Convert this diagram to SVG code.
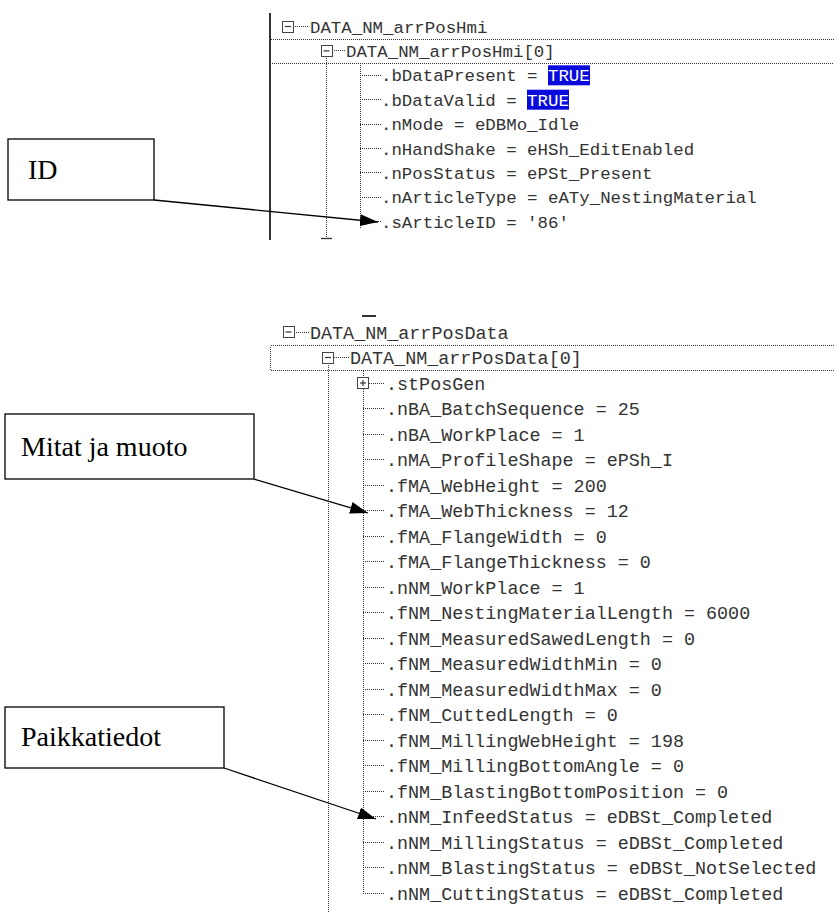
<svg xmlns="http://www.w3.org/2000/svg" width="834" height="913" viewBox="0 0 834 913">
<style>
.t1{font-family:"Liberation Mono","DejaVu Sans Mono",monospace;font-size:17.4px;fill:#333}
.t2{font-family:"Liberation Mono","DejaVu Sans Mono",monospace;font-size:18.4px;fill:#333}
.lbl{font-family:"Liberation Serif","Times New Roman",serif;font-size:28px;fill:#000}
.box{fill:#fff;stroke:#000;stroke-width:1.3}
.dot{stroke:#333;stroke-width:1;stroke-dasharray:1 1;fill:none;shape-rendering:crispEdges}
.tb{fill:#fff;stroke:#444;stroke-width:1;shape-rendering:crispEdges}
.tm{stroke:#333;stroke-width:1.2}
.hl{fill:#0a0adc}
.arr{stroke:#000;stroke-width:1.3;fill:none;marker-end:url(#ah)}
</style>
<defs>
<marker id="ah" markerUnits="userSpaceOnUse" markerWidth="18" markerHeight="12" refX="18" refY="6" orient="auto">
<path d="M0,0 L18,6 L0,12 z" fill="#000"/>
</marker>
</defs>
<rect width="834" height="913" fill="#fff"/>

<g id="tree-hmi">
<line x1="270" y1="13" x2="270" y2="240" stroke="#000" stroke-width="1.6"/>
<rect x="270.5" y="39.5" width="570" height="24" class="dot"/>
<line x1="293" y1="26.5" x2="308" y2="26.5" class="dot"/>
<line x1="332" y1="50.5" x2="345" y2="50.5" class="dot"/>
<line x1="326.5" y1="56.4" x2="326.5" y2="238" class="dot"/>
<line x1="321" y1="238.5" x2="332" y2="238.5" stroke="#333" stroke-width="1.3"/>
<line x1="360.5" y1="63" x2="360.5" y2="228" class="dot"/>
<line x1="360" y1="75.5" x2="381" y2="75.5" class="dot"/>
<line x1="360" y1="99.5" x2="381" y2="99.5" class="dot"/>
<line x1="360" y1="124.5" x2="381" y2="124.5" class="dot"/>
<line x1="360" y1="148.5" x2="381" y2="148.5" class="dot"/>
<line x1="360" y1="172.5" x2="381" y2="172.5" class="dot"/>
<line x1="360" y1="197.5" x2="381" y2="197.5" class="dot"/>
<line x1="360" y1="221.5" x2="381" y2="221.5" class="dot"/>
<rect x="282.5" y="21" width="11" height="11" class="tb"/>
<line x1="285" y1="26.5" x2="291" y2="26.5" class="tm"/>
<rect x="321" y="45.4" width="11" height="11" class="tb"/>
<line x1="323.5" y1="50.9" x2="329.5" y2="50.9" class="tm"/>
<rect x="548" y="65.3" width="42" height="20" class="hl"/>
<rect x="527" y="89.7" width="42" height="20" class="hl"/>
<text class="t1" x="310" y="32.5">DATA_NM_arrPosHmi</text>
<text class="t1" x="346" y="56.9">DATA_NM_arrPosHmi[0]</text>
<text class="t1" x="381" y="81.3">.bDataPresent = <tspan fill="#fff">TRUE</tspan></text>
<text class="t1" x="381" y="105.7">.bDataValid = <tspan fill="#fff">TRUE</tspan></text>
<text class="t1" x="381" y="130.1">.nMode = eDBMo_Idle</text>
<text class="t1" x="381" y="154.5">.nHandShake = eHSh_EditEnabled</text>
<text class="t1" x="381" y="178.9">.nPosStatus = ePSt_Present</text>
<text class="t1" x="381" y="203.3">.nArticleType = eATy_NestingMaterial</text>
<text class="t1" x="381" y="227.7">.sArticleID = '86'</text>
</g>

<g id="tree-data">
<line x1="362" y1="316" x2="376" y2="316" stroke="#333" stroke-width="2"/>
<rect x="270.5" y="345.5" width="570" height="25" class="dot"/>
<line x1="294" y1="332.5" x2="309" y2="332.5" class="dot"/>
<line x1="333.5" y1="357.5" x2="349" y2="357.5" class="dot"/>
<line x1="328.5" y1="363" x2="328.5" y2="913" class="dot"/>
<line x1="363.5" y1="371" x2="363.5" y2="893" class="dot"/>
<line x1="368.5" y1="383.5" x2="385" y2="383.5" class="dot"/>
<g class="dot">
<line x1="363" y1="408.5" x2="385" y2="408.5"/>
<line x1="363" y1="434.5" x2="385" y2="434.5"/>
<line x1="363" y1="459.5" x2="385" y2="459.5"/>
<line x1="363" y1="485.5" x2="385" y2="485.5"/>
<line x1="363" y1="510.5" x2="385" y2="510.5"/>
<line x1="363" y1="536.5" x2="385" y2="536.5"/>
<line x1="363" y1="561.5" x2="385" y2="561.5"/>
<line x1="363" y1="587.5" x2="385" y2="587.5"/>
<line x1="363" y1="612.5" x2="385" y2="612.5"/>
<line x1="363" y1="638.5" x2="385" y2="638.5"/>
<line x1="363" y1="663.5" x2="385" y2="663.5"/>
<line x1="363" y1="689.5" x2="385" y2="689.5"/>
<line x1="363" y1="714.5" x2="385" y2="714.5"/>
<line x1="363" y1="740.5" x2="385" y2="740.5"/>
<line x1="363" y1="765.5" x2="385" y2="765.5"/>
<line x1="363" y1="791.5" x2="385" y2="791.5"/>
<line x1="363" y1="816.5" x2="385" y2="816.5"/>
<line x1="363" y1="842.5" x2="385" y2="842.5"/>
<line x1="363" y1="867.5" x2="385" y2="867.5"/>
<line x1="363" y1="893.5" x2="385" y2="893.5"/>
</g>
<rect x="283" y="326.5" width="11" height="11" class="tb"/>
<line x1="285.5" y1="332" x2="291.5" y2="332" class="tm"/>
<rect x="322.5" y="352" width="11" height="11" class="tb"/>
<line x1="325" y1="357.5" x2="331" y2="357.5" class="tm"/>
<rect x="357.5" y="377.5" width="11" height="11" class="tb"/>
<line x1="360" y1="383" x2="366" y2="383" class="tm"/>
<line x1="363" y1="380" x2="363" y2="386" class="tm"/>
<text class="t2" x="310" y="338.5">DATA_NM_arrPosData</text>
<text class="t2" x="350" y="364">DATA_NM_arrPosData[0]</text>
<text class="t2" x="386" y="389.5">.stPosGen</text>
<text class="t2" x="386" y="415">.nBA_BatchSequence = 25</text>
<text class="t2" x="386" y="440.5">.nBA_WorkPlace = 1</text>
<text class="t2" x="386" y="466">.nMA_ProfileShape = ePSh_I</text>
<text class="t2" x="386" y="491.5">.fMA_WebHeight = 200</text>
<text class="t2" x="386" y="517">.fMA_WebThickness = 12</text>
<text class="t2" x="386" y="542.5">.fMA_FlangeWidth = 0</text>
<text class="t2" x="386" y="568">.fMA_FlangeThickness = 0</text>
<text class="t2" x="386" y="593.5">.nNM_WorkPlace = 1</text>
<text class="t2" x="386" y="619">.fNM_NestingMaterialLength = 6000</text>
<text class="t2" x="386" y="644.5">.fNM_MeasuredSawedLength = 0</text>
<text class="t2" x="386" y="670">.fNM_MeasuredWidthMin = 0</text>
<text class="t2" x="386" y="695.5">.fNM_MeasuredWidthMax = 0</text>
<text class="t2" x="386" y="721">.fNM_CuttedLength = 0</text>
<text class="t2" x="386" y="746.5">.fNM_MillingWebHeight = 198</text>
<text class="t2" x="386" y="772">.fNM_MillingBottomAngle = 0</text>
<text class="t2" x="386" y="797.5">.fNM_BlastingBottomPosition = 0</text>
<text class="t2" x="386" y="823">.nNM_InfeedStatus = eDBSt_Completed</text>
<text class="t2" x="386" y="848.5">.nNM_MillingStatus = eDBSt_Completed</text>
<text class="t2" x="386" y="874">.nNM_BlastingStatus = eDBSt_NotSelected</text>
<text class="t2" x="386" y="899.5">.nNM_CuttingStatus = eDBSt_Completed</text>
</g>

<g id="label-id">
<rect x="8" y="139" width="146" height="61" class="box"/>
<text class="lbl" x="28" y="179">ID</text>
</g>
<g id="label-mitat">
<rect x="5" y="414" width="249" height="65" class="box"/>
<text class="lbl" x="21" y="456">Mitat ja muoto</text>
</g>
<g id="label-paikka">
<rect x="5" y="707" width="219" height="61" class="box"/>
<text class="lbl" x="21" y="746">Paikkatiedot</text>
</g>

<g id="connectors">
<line x1="154" y1="200" x2="378" y2="222" class="arr"/>
<line x1="254" y1="479" x2="368" y2="513" class="arr"/>
<line x1="224" y1="768" x2="376" y2="819" class="arr"/>
</g>
</svg>
